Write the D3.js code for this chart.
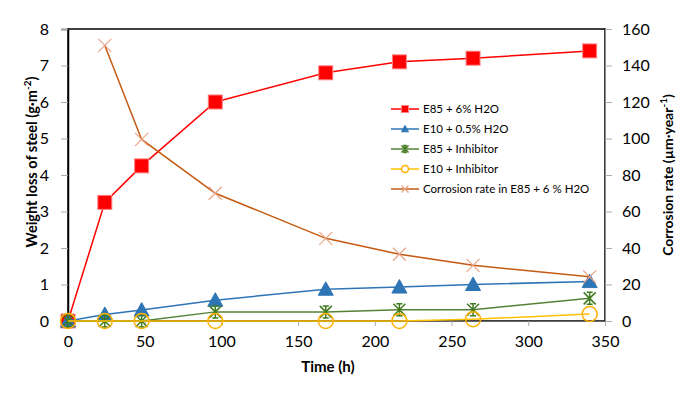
<!DOCTYPE html>
<html>
<head>
<meta charset="utf-8">
<script src="https://cdn.jsdelivr.net/npm/d3@7"></script>
<style>
  body { margin: 0; background: #fff; }
  text { font-family: Lato, "Open Sans", sans-serif; fill: #000; }
</style>
</head>
<body>
<div class="chart"></div>
<script>
var svgWidth = 700;
var svgHeight = 396;

var margin = { top: 29, right: 95, bottom: 75, left: 68 };
var width = svgWidth - margin.left - margin.right;
var height = svgHeight - margin.top - margin.bottom;

// data
var hours = [0, 24, 48, 96, 168, 216, 264, 340];
var e85Water = [0, 3.25, 4.25, 6.0, 6.8, 7.1, 7.2, 7.4];
var e10Water = [0, 0.18, 0.3, 0.57, 0.87, 0.93, 1.0, 1.08];
var e85Inhib = [0, 0, 0, 0.25, 0.25, 0.31, 0.31, 0.62];
var e10Inhib = [0, 0, 0, 0, 0, 0, 0.05, 0.19];
var rateHours = [24, 48, 96, 168, 216, 264, 340];
var corrosionRate = [151, 99.5, 70, 45.3, 36.6, 30.5, 24.2];

var xTicks = [0, 50, 100, 150, 200, 250, 300, 350];
var yTicks = [0, 1, 2, 3, 4, 5, 6, 7, 8];
var y2Ticks = [0, 20, 40, 60, 80, 100, 120, 140, 160];

var series = [
  { name: "E85 + 6% H2O", x: hours, y: e85Water, axis: "left", line: "#ff0000", marker: "square", fill: "#ff0000", stroke: "#ff8080" },
  { name: "E10 + 0.5% H2O", x: hours, y: e10Water, axis: "left", line: "#2e75b6", marker: "triangle", fill: "#2e75b6", stroke: "#2e75b6" },
  { name: "E85 + Inhibitor", x: hours, y: e85Inhib, axis: "left", line: "#548235", marker: "star", fill: "none", stroke: "#3f7a1e" },
  { name: "E10 + Inhibitor", x: hours, y: e10Inhib, axis: "left", line: "#ffc000", marker: "circle", fill: "none", stroke: "#ffb000" },
  { name: "Corrosion rate in E85 + 6 % H2O", x: rateHours, y: corrosionRate, axis: "right", line: "#c55a11", marker: "cross", fill: "none", stroke: "#e9a385" }
];

var svg = d3.select(".chart")
  .append("svg")
  .attr("width", svgWidth)
  .attr("height", svgHeight);

var chartGroup = svg.append("g")
  .attr("transform", `translate(${margin.left}, ${margin.top})`);

var xScale = d3.scaleLinear().domain([0, 350]).range([0, width]);
var yScale = d3.scaleLinear().domain([0, 8]).range([height, 0]);
var y2Scale = d3.scaleLinear().domain([0, 160]).range([height, 0]);

// plot frame
chartGroup.append("rect")
  .attr("width", width)
  .attr("height", height)
  .attr("fill", "none")
  .attr("stroke", "#000")
  .attr("stroke-width", 1.5);

// axes
var bottomAxis = d3.axisBottom(xScale).tickValues(xTicks).tickSize(5).tickPadding(10);
var leftAxis = d3.axisLeft(yScale).tickValues(yTicks).tickSize(7).tickPadding(12);
var rightAxis = d3.axisRight(y2Scale).tickValues(y2Ticks).tickSize(7).tickPadding(10);

var xAxis = chartGroup.append("g")
  .attr("transform", `translate(0, ${height})`)
  .call(bottomAxis);
var yAxis = chartGroup.append("g").call(leftAxis);
var y2Axis = chartGroup.append("g")
  .attr("transform", `translate(${width}, 0)`)
  .call(rightAxis);

[xAxis, yAxis, y2Axis].forEach(function(a) {
  a.select(".domain").attr("stroke", "#888");
  a.selectAll(".tick line").attr("stroke", "#aaa");
  a.selectAll(".tick text").style("font-size", "16px").attr("fill", "#111");
});
yAxis.select(".domain").attr("stroke", "#000").attr("stroke-width", 1.5);
xAxis.select(".domain").attr("stroke", "#666");

// marker shapes
function drawMarker(g, type, size, fill, stroke) {
  var h = size / 2;
  if (type === "square") {
    g.append("rect").attr("x", -h).attr("y", -h).attr("width", size).attr("height", size)
      .attr("fill", fill).attr("stroke", stroke).attr("stroke-width", 1);
  } else if (type === "triangle") {
    g.append("path").attr("d", `M0,${-h}L${h},${h * 0.8}L${-h},${h * 0.8}Z`)
      .attr("fill", fill).attr("stroke", stroke);
  } else if (type === "star") {
    g.append("path")
      .attr("d", `M${-h},${-h}L${h},${h}M${h},${-h}L${-h},${h}M0,${-h}L0,${h}M${-h * 0.5},${-h}L${h * 0.5},${-h}M${-h * 0.5},${h}L${h * 0.5},${h}`)
      .attr("fill", "none").attr("stroke", stroke).attr("stroke-width", 1.5);
  } else if (type === "circle") {
    g.append("circle").attr("r", h).attr("fill", fill).attr("stroke", stroke).attr("stroke-width", 1.5);
  } else if (type === "cross") {
    g.append("path").attr("d", `M${-h},${-h}L${h},${h}M${h},${-h}L${-h},${h}`)
      .attr("fill", "none").attr("stroke", stroke).attr("stroke-width", 1.2);
  }
}

var markerSize = { square: 14, triangle: 15, star: 12, circle: 15, cross: 13 };

series.forEach(function(s) {
  var ys = s.axis === "left" ? yScale : y2Scale;
  var pts = s.x.map(function(x, i) { return [x, s.y[i]]; });

  var line = d3.line()
    .x(d => xScale(d[0]))
    .y(d => ys(d[1]));

  chartGroup.append("path")
    .datum(pts)
    .attr("fill", "none")
    .attr("stroke", s.line)
    .attr("stroke-width", 1.5)
    .attr("d", line);

  pts.forEach(function(d) {
    var g = chartGroup.append("g")
      .attr("transform", `translate(${xScale(d[0])}, ${ys(d[1])})`);
    drawMarker(g, s.marker, markerSize[s.marker], s.fill, s.stroke);
  });
});

// legend
var legend = chartGroup.append("g")
  .attr("transform", "translate(323, 80)");

series.forEach(function(s, i) {
  var row = legend.append("g").attr("transform", `translate(0, ${i * 20})`);
  row.append("line")
    .attr("x1", 0).attr("x2", 28)
    .attr("stroke", s.line).attr("stroke-width", 1.5);
  var m = row.append("g").attr("transform", "translate(14, 0)");
  drawMarker(m, s.marker, 7, s.fill === "none" ? "#fff" : s.fill, s.stroke);
  row.append("text")
    .attr("x", 32)
    .attr("dy", "0.35em")
    .style("font-size", "11.5px")
    .text(s.name);
});

// axis titles
chartGroup.append("text")
  .attr("transform", "rotate(-90)")
  .attr("x", -133)
  .attr("y", -36)
  .attr("dy", "0.35em")
  .attr("text-anchor", "middle")
  .style("font-size", "14.5px")
  .style("font-weight", "bold")
  .html("Weight loss of steel (g·m<tspan dy='-6' font-size='10px'>-2</tspan><tspan dy='6'>)</tspan>");

chartGroup.append("text")
  .attr("transform", "rotate(-90)")
  .attr("x", -146)
  .attr("y", width + 63)
  .attr("dy", "0.35em")
  .attr("text-anchor", "middle")
  .style("font-size", "14px")
  .style("font-weight", "bold")
  .html("Corrosion rate (µm·year<tspan dy='-6' font-size='10px'>-1</tspan><tspan dy='6'>)</tspan>");

chartGroup.append("text")
  .attr("x", 260)
  .attr("y", height + 46)
  .attr("dy", "0.35em")
  .attr("text-anchor", "middle")
  .style("font-size", "15px")
  .style("font-weight", "bold")
  .text("Time (h)");
</script>
</body>
</html>
